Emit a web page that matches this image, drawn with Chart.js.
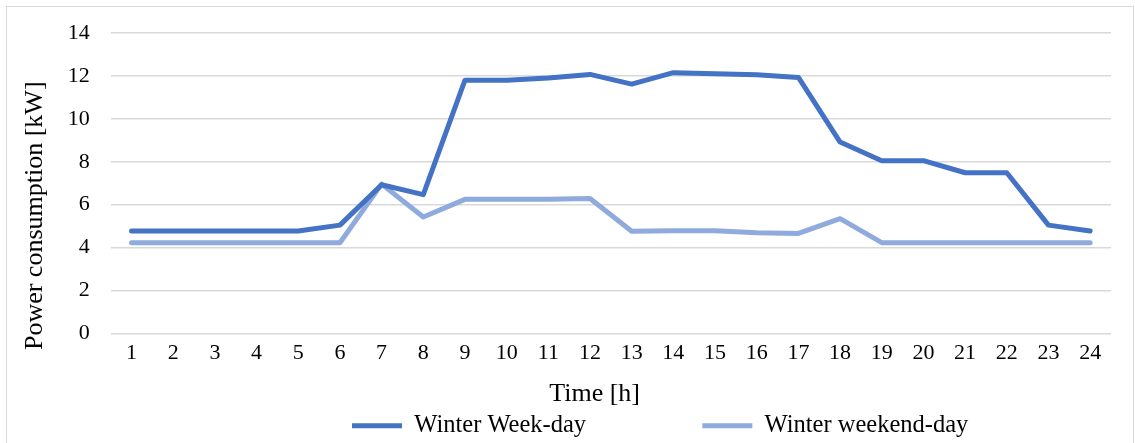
<!DOCTYPE html>
<html>
<head>
<meta charset="utf-8">
<script src="https://cdn.jsdelivr.net/npm/chart.js@4"></script>
<style>
html,body{margin:0;padding:0;background:#fff;overflow:hidden;}
#c{position:absolute;left:0;top:0;display:block;}
#frame{position:absolute;left:6px;top:6px;width:1126px;height:445px;border:1px solid #d9d9d9;pointer-events:none;}
</style>
</head>
<body>
<canvas id="c" width="1135" height="443"></canvas>
<div id="frame"></div>
<script>
const hours = ['1','2','3','4','5','6','7','8','9','10','11','12','13','14','15','16','17','18','19','20','21','22','23','24'];
const weekDay = [4.78,4.78,4.78,4.78,4.78,5.05,6.93,6.47,11.8,11.8,11.9,12.07,11.62,12.15,12.1,12.06,11.93,8.92,8.05,8.05,7.49,7.49,5.05,4.78];
const weekendDay = [4.23,4.23,4.23,4.23,4.23,4.23,6.96,5.43,6.25,6.25,6.25,6.29,4.76,4.79,4.79,4.69,4.66,5.35,4.23,4.23,4.23,4.23,4.23,4.23];
const yTicks = [0,2,4,6,8,10,12,14];
const seriesNames = ['Winter Week-day', 'Winter weekend-day'];
const yTitle = 'Power consumption [kW]';
const xTitle = 'Time [h]';

const FAMILY = '"Liberation Serif", "Times New Roman", serif';
const tickFont = {family: FAMILY, size: 22, lineHeight: 1};
const titleFont = {family: FAMILY, size: 26, lineHeight: 0.9};
const legendFont = {family: FAMILY, size: 24.5};
const NBSP = '\u00a0';

const legendPlacement = {
  id: 'legendPlacement',
  afterLayout(chart) {
    const lg = chart.legend;
    if (!lg || !lg.lineWidths) return;
    const pad = lg.options.labels.padding;
    const start = (lg.left + pad + lg.right - lg.lineWidths[0]) / 2;
    const dx = 352 - start;
    lg.left += dx; lg.right += dx;
  }
};

new Chart(document.getElementById('c'), {
  type: 'line',
  data: {
    labels: hours,
    datasets: [
      {label: seriesNames[0], data: weekDay, borderColor: '#4472C4', backgroundColor: '#4472C4', borderWidth: 5, pointRadius: 0, tension: 0, borderCapStyle: 'round', borderJoinStyle: 'round'},
      {label: seriesNames[1], data: weekendDay, borderColor: '#8FAADC', backgroundColor: '#8FAADC', borderWidth: 5, pointRadius: 0, tension: 0, borderCapStyle: 'round', borderJoinStyle: 'round'}
    ]
  },
  plugins: [legendPlacement],
  options: {
    responsive: false,
    animation: false,
    layout: {padding: {left: 12, right: 24, top: 33, bottom: -5}},
    plugins: {
      legend: {
        position: 'bottom',
        labels: {
          font: legendFont, color: '#000', usePointStyle: true, pointStyle: 'line', pointStyleWidth: 50, padding: 6,
          generateLabels(chart) {
            const items = Chart.defaults.plugins.legend.labels.generateLabels(chart);
            items[0].text = items[0].text + NBSP.repeat(18);
            return items;
          }
        }
      },
      tooltip: {enabled: false}
    },
    scales: {
      x: {
        offset: true,
        grid: {display: false, drawTicks: false},
        border: {display: false},
        ticks: {font: tickFont, color: '#000', padding: 9, maxRotation: 0, autoSkip: false},
        title: {display: true, text: xTitle + NBSP.repeat(5), font: titleFont, color: '#000', padding: {top: 8.8, bottom: 1.8}}
      },
      y: {
        min: 0, max: 14,
        afterBuildTicks: (axis) => { axis.ticks = yTicks.map(v => ({value: v})); },
        grid: {color: '#d9d9d9', lineWidth: 1.5, drawTicks: false},
        border: {display: false},
        ticks: {font: tickFont, color: '#000', padding: 21},
        title: {display: true, text: yTitle + NBSP.repeat(10), font: titleFont, color: '#000', padding: {top: 11.3, bottom: 0}}
      }
    }
  }
});
</script>
</body>
</html>
